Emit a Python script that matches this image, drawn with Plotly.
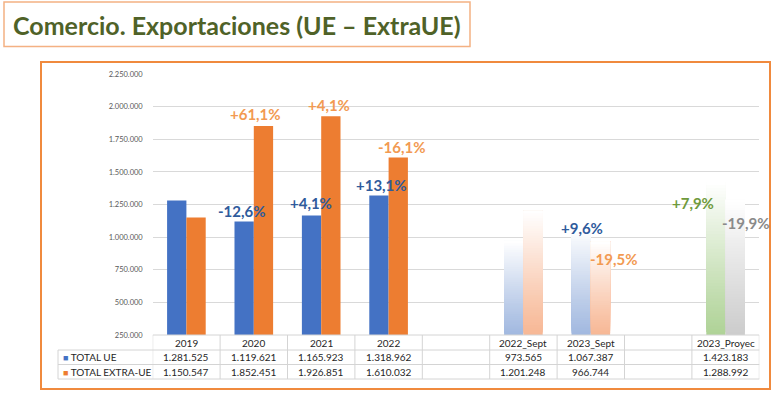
import plotly.graph_objects as go

# ---------------- data ----------------
categories = ["2019", "2020", "2021", "2022", " ", "2022_Sept", "2023_Sept", "  ", "2023_Proyec"]
total_ue = [1281525, 1119621, 1165923, 1318962, None, 973565, 1067387, None, 1423183]
total_extra = [1150547, 1852451, 1926851, 1610032, None, 1201248, 966744, None, 1288992]
ue_change = [None, "-12,6%", "+4,1%", "+13,1%", None, None, "+9,6%", None, "+7,9%"]
extra_change = [None, "+61,1%", "+4,1%", "-16,1%", None, None, "-19,5%", None, "-19,9%"]
series_names = ["TOTAL UE", "TOTAL EXTRA-UE"]
y_ticks = [250000, 500000, 750000, 1000000, 1250000, 1500000, 1750000, 2000000, 2250000]
title_text = "Comercio. Exportaciones (UE \u2013 ExtraUE)"

# ---------------- styling ----------------
W, H = 774, 393
FONT = "Lato"
BLUE, ORANGE = "#4472c4", "#ed7d31"
solid_idx = [0, 1, 2, 3]
# gradient (faded) bars: index -> (ue bottom colour, extra bottom colour)
faded = {5: ("#a2b9e0", "#f7b896"), 6: ("#a2b9e0", "#f7b896"), 8: ("#b0d398", "#cdcdcd")}
label_colors_ue = {8: "#6f9a3c"}
label_colors_extra = {8: "#8a8a8a"}
# label offsets (px) relative to bar centre / bar top
ue_shift = {1: (-2, 11), 2: (-1, 12), 3: (3, 11), 6: (1, 0), 8: (-23, -21)}
extra_shift = {1: (-8, 11.5), 2: (-2, 11), 3: (3.5, 10.5), 6: (14, -17.5), 8: (11, -24)}

y_min, y_max = 250000, 2250000
px = lambda v: v / W
py = lambda v: 1 - v / H

x_dom = [px(152.7), px(759.3)]
y_dom = [py(335), py(74)]
cat_w = (759.3 - 152.7) / len(categories)
bargap = 0.427
bar_w_px = cat_w * (1 - bargap) / 2


def mix(c, t):
    c = c.lstrip("#")
    r, g, b = int(c[0:2], 16), int(c[2:4], 16), int(c[4:6], 16)
    r = round(r + (255 - r) * t)
    g = round(g + (255 - g) * t)
    b = round(b + (255 - b) * t)
    return f"rgb({r},{g},{b})"


fig = go.Figure()

# solid bars
fig.add_trace(go.Bar(x=[categories[i] for i in solid_idx], y=[total_ue[i] for i in solid_idx],
                     marker=dict(color=BLUE, line=dict(width=0)), offsetgroup="a",
                     name=series_names[0], showlegend=False))
fig.add_trace(go.Bar(x=[categories[i] for i in solid_idx], y=[total_extra[i] for i in solid_idx],
                     marker=dict(color=ORANGE, line=dict(width=0)), offsetgroup="b",
                     name=series_names[1], showlegend=False))

# faded bars: overlapping slices from each slice's bottom up to the value,
# drawn bottom-first so that later (lighter) slices cover the upper part
N = 50
for i, (c_ue, c_ex) in faded.items():
    for vals, col, grp in ((total_ue, c_ue, "a"), (total_extra, c_ex, "b")):
        v = vals[i]
        step = (v - y_min) / N
        bases = [0] + [y_min + k * step for k in range(1, N)]
        heights = [v - b for b in bases]
        colors = [mix(col, min(1.0, (k / N) ** 1.1 * 1.02)) for k in range(N)]
        fig.add_trace(go.Bar(x=[categories[i]] * N, y=heights, base=bases,
                             marker=dict(color=colors, line=dict(width=0)),
                             offsetgroup=grp, showlegend=False, hoverinfo="skip"))

annotations = []
shapes = []

# percentage labels (x given as category index)
for vals, labels, shifts, side, default_col, cmap in (
        (total_ue, ue_change, ue_shift, -1, "#2f5b9c", label_colors_ue),
        (total_extra, extra_change, extra_shift, 1, "#f29a52", label_colors_extra)):
    for i, lab in enumerate(labels):
        if lab is None:
            continue
        dx, dy = shifts[i]
        annotations.append(dict(x=i, y=vals[i], xref="x", yref="y", text=lab,
                                showarrow=False, xanchor="center", yanchor="middle",
                                xshift=side * bar_w_px / 2 + dx, yshift=dy,
                                font=dict(family=FONT, size=15, color=cmap.get(i, default_col),
                                          weight="bold")))

# data table
grid = "#d4d4d4"
row_y = [335, 350, 364.5, 379]
n = len(categories)
shapes.append(dict(type="line", xref="x", yref="paper", x0=-0.5, x1=n - 0.5,
                   y0=py(row_y[0]), y1=py(row_y[0]), line=dict(color=grid, width=1)))
for r in row_y[1:]:
    shapes.append(dict(type="line", xref="paper", yref="paper", x0=px(58), x1=x_dom[1],
                       y0=py(r), y1=py(r), line=dict(color=grid, width=1)))
shapes.append(dict(type="line", xref="paper", yref="paper", x0=px(58), x1=px(58),
                   y0=py(row_y[1]), y1=py(row_y[3]), line=dict(color=grid, width=1)))
for k in range(n + 1):
    shapes.append(dict(type="line", xref="x", yref="paper", x0=k - 0.5, x1=k - 0.5,
                       y0=py(row_y[0]), y1=py(row_y[3]), line=dict(color=grid, width=1)))

tfont = dict(family=FONT, size=10, color="#262626")
row_mid = [(row_y[j] + row_y[j + 1]) / 2 for j in range(3)]


def fmt(v):
    return f"{v:,}".replace(",", ".")


for i, c in enumerate(categories):
    annotations.append(dict(x=i, y=py(row_mid[0]), xref="x", yref="paper", text=c.strip(),
                            xanchor="center", yanchor="middle", showarrow=False, font=tfont))
    if total_ue[i] is not None:
        annotations.append(dict(x=i, y=py(row_mid[1]), xref="x", yref="paper",
                                xanchor="center", yanchor="middle",
                                text=fmt(total_ue[i]), showarrow=False, font=tfont))
    if total_extra[i] is not None:
        annotations.append(dict(x=i, y=py(row_mid[2]), xref="x", yref="paper",
                                xanchor="center", yanchor="middle",
                                text=fmt(total_extra[i]), showarrow=False, font=tfont))

for j, (nm, col) in enumerate(zip(series_names, (BLUE, ORANGE))):
    annotations.append(dict(x=px(61), y=py(row_mid[j + 1]), xref="paper", yref="paper",
                            xanchor="left", yanchor="middle", showarrow=False,
                            text=f"<span style='color:{col};font-size:9px'>\u25a0</span> {nm}",
                            font=tfont))

# title and frames
annotations.append(dict(x=px(11), y=py(25), xref="paper", yref="paper", xanchor="left",
                        yanchor="middle", text=title_text, showarrow=False,
                        font=dict(family=FONT, size=25, color="#4f6228", weight="bold")))
shapes.append(dict(type="rect", xref="paper", yref="paper", x0=px(4), x1=px(470),
                   y0=py(46.5), y1=py(2), line=dict(color="#f4b183", width=1.5)))
shapes.append(dict(type="rect", xref="paper", yref="paper", x0=px(41), x1=px(770),
                   y0=py(389), y1=py(62), line=dict(color="#f08a3e", width=2)))

fig.update_layout(
    width=W, height=H, margin=dict(l=0, r=0, t=0, b=0, pad=0, autoexpand=False),
    paper_bgcolor="white", plot_bgcolor="white",
    barmode="group", bargap=bargap, bargroupgap=0,
    separators=",.", showlegend=False,
    xaxis=dict(type="category", categoryorder="array", categoryarray=categories,
               domain=x_dom, range=[-0.5, n - 0.5], showticklabels=False, automargin=False,
               showgrid=False, zeroline=False, showline=False, fixedrange=True),
    yaxis=dict(domain=y_dom, range=[y_min, y_max], tickvals=y_ticks, tickformat=",d",
               automargin=False, fixedrange=True,
               showgrid=True, gridcolor="#d9d9d9", gridwidth=1, zeroline=False,
               showline=False, ticks="", ticklabelstandoff=9,
               tickfont=dict(family=FONT, size=7.5, color="#595959")),
    annotations=annotations, shapes=shapes,
)

fig.write_html("out.html", config={"displayModeBar": False, "responsive": False},
               post_script="document.body.style.margin='0';document.body.style.overflow='hidden';")
